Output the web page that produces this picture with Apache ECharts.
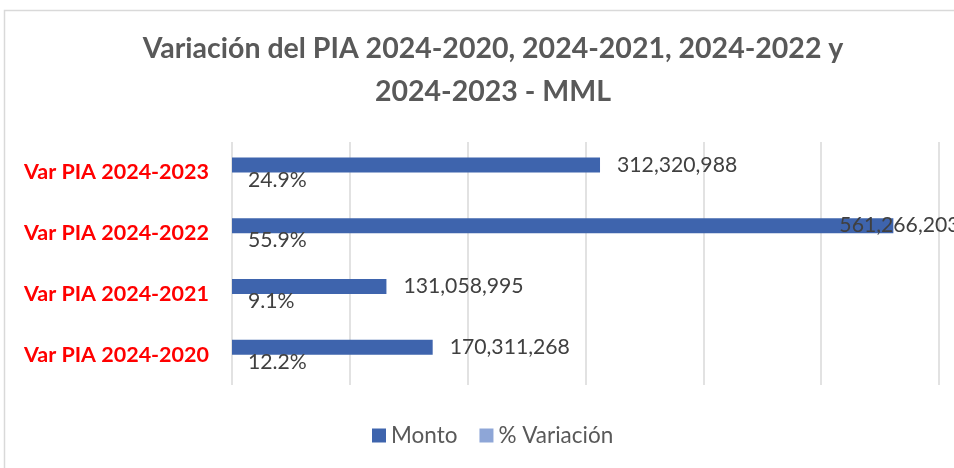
<!DOCTYPE html>
<html>
<head>
<meta charset="utf-8">
<title>Variación del PIA - MML</title>
<script src="https://cdn.jsdelivr.net/npm/echarts@6/dist/echarts.min.js"></script>
<style>
  html, body { margin: 0; padding: 0; background: #fff; }
  #chart { width: 954px; height: 468px; }
</style>
</head>
<body>
<div id="chart"></div>
<script>
// data
const categories = ['Var PIA 2024-2020', 'Var PIA 2024-2021', 'Var PIA 2024-2022', 'Var PIA 2024-2023']
const montoValues = [170311268, 131058995, 561266203, 312320988]
const variacionPct = [12.2, 9.1, 55.9, 24.9]
const seriesNames = ['Monto', '% Variación']

const colors = ['#3E64AD', '#8EA6D7']
const font = 'Lato, "Open Sans", sans-serif'

const chart = echarts.init(document.getElementById('chart'))

const fmtNumber = v => v.toLocaleString('en-US')

const option = {
  animation: false,
  textStyle: { fontFamily: font },
  graphic: [
    {
      type: 'rect',
      shape: { x: 4.5, y: 10.5, width: 980, height: 500 },
      style: { fill: 'none', stroke: '#d9d9d9', lineWidth: 1.5 },
      silent: true
    }
  ],
  title: {
    text: 'Variación del PIA 2024-2020, 2024-2021, 2024-2022 y\n2024-2023 - MML',
    left: 488,
    top: 22,
    textAlign: 'center',
    textStyle: {
      fontFamily: font,
      fontSize: 28.5,
      fontWeight: 'bold',
      color: '#595959',
      lineHeight: 43
    }
  },
  legend: {
    data: seriesNames,
    bottom: 16,
    left: 367,
    itemWidth: 14,
    itemHeight: 14,
    itemGap: 22,
    icon: 'rect',
    textStyle: { fontFamily: font, fontSize: 22.5, color: '#595959' }
  },
  grid: { left: 232, right: 15, top: 142, bottom: 83 },
  xAxis: {
    type: 'value',
    min: 0,
    max: 600000000,
    interval: 100000000,
    axisLabel: { show: false },
    axisLine: { show: false },
    axisTick: { show: false },
    splitLine: { lineStyle: { color: '#d9d9d9', width: 1.5 } }
  },
  yAxis: {
    type: 'category',
    data: categories,
    axisLine: { show: false },
    axisTick: { show: false },
    axisLabel: {
      margin: 23,
      fontFamily: font,
      fontSize: 21.5,
      fontWeight: 'bold',
      color: '#ff0000'
    }
  },
  series: [
    {
      name: seriesNames[0],
      type: 'bar',
      barWidth: 15,
      barGap: '0%',
      itemStyle: { color: colors[0] },
      data: montoValues.map(v => {
        const item = { value: v }
        // widest bar: Excel pulls its label back over the bar end
        if (v === Math.max(...montoValues)) {
          item.label = { offset: [-71, 0] }
        }
        return item
      }),
      label: {
        show: true,
        position: 'right',
        distance: 17,
        fontFamily: font,
        fontSize: 21.2,
        color: '#404040',
        formatter: p => fmtNumber(p.value)
      }
    },
    {
      name: seriesNames[1],
      type: 'bar',
      barWidth: 15,
      itemStyle: { color: colors[1] },
      data: variacionPct,
      label: {
        show: true,
        position: 'right',
        distance: 16,
        fontFamily: font,
        fontSize: 21.2,
        color: '#404040',
        formatter: p => p.value.toFixed(1) + '%'
      }
    }
  ]
}

chart.setOption(option)
window.addEventListener('resize', () => chart.resize())
</script>
</body>
</html>
